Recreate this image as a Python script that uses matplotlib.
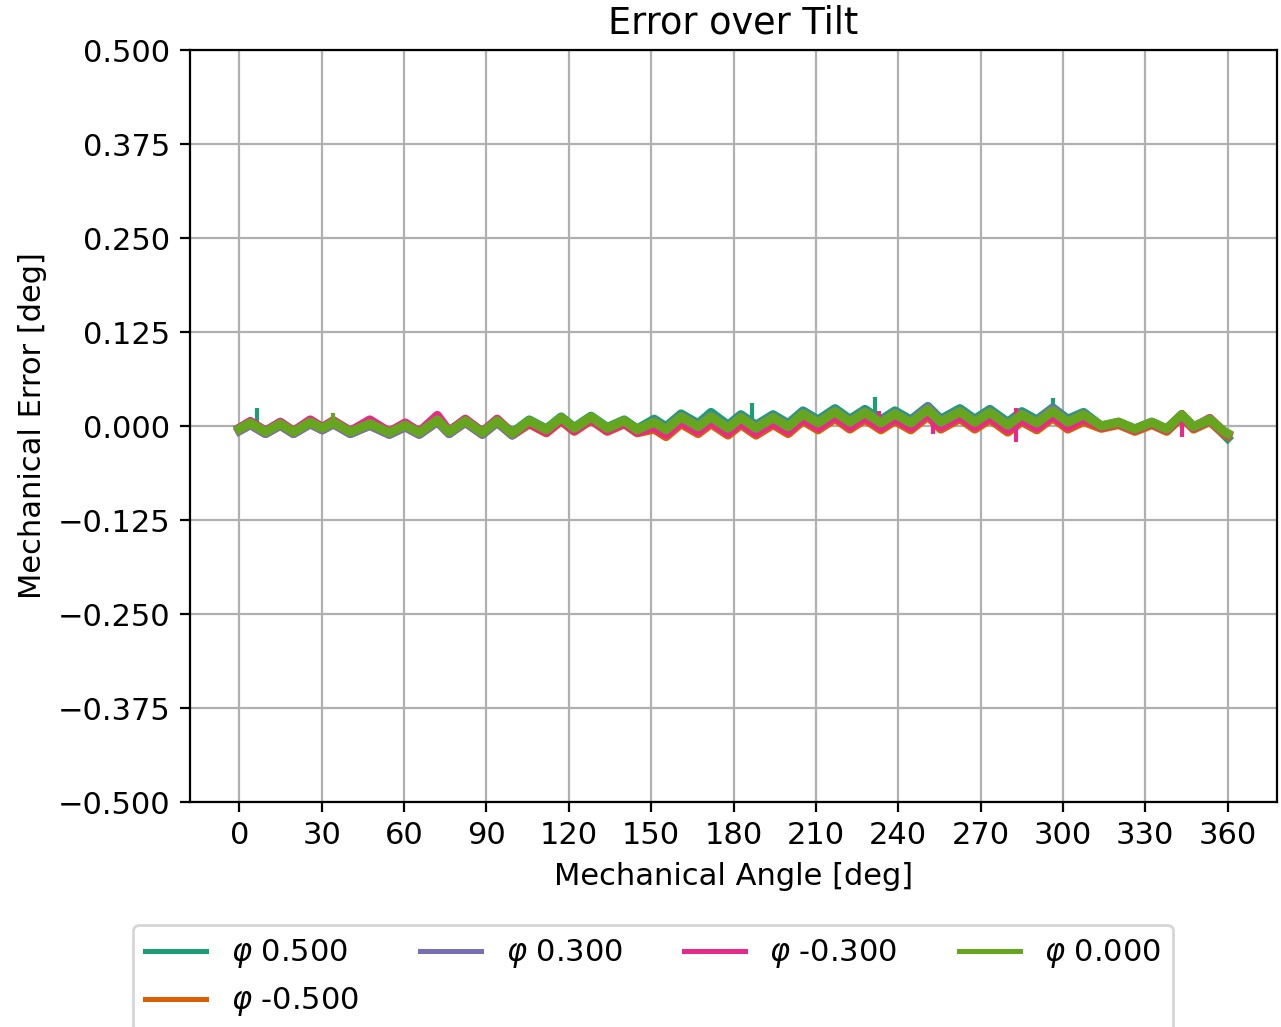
import numpy as np
import matplotlib
matplotlib.use("Agg")
import matplotlib.pyplot as plt

plt.rcParams['font.size'] = 11.0

# angle positions (peaks/troughs)
angle = [0.0, 4.0, 9.5, 14.9, 19.7, 25.8, 30.2, 34.2, 40.4, 47.5,
         54.6, 60.4, 65.5, 72.1, 76.4, 82.3, 88.5, 93.9, 99.4, 105.6,
         111.8, 117.2, 122.0, 128.1, 134.0, 140.2, 144.9, 151.1, 155.4, 160.9,
         167.1, 171.8, 178.0, 182.7, 188.2, 194.4, 199.9, 205.3, 210.8, 217.0,
         222.4, 227.9, 233.7, 238.8, 244.6, 250.8, 255.5, 262.5, 267.9, 273.4,
         279.9, 285.0, 290.5, 296.3, 301.8, 307.5, 314.0, 320.3, 326.2, 332.4,
         337.8, 343.3, 347.6, 353.5, 358.9, 360.0]

err_p050 = [-0.003, 0.005, -0.007, 0.004, -0.007, 0.006, -0.002, 0.006, -0.007, 0.004,
            -0.008, 0.002, -0.008, 0.009, -0.007, 0.008, -0.008, 0.008, -0.009, 0.008,
            -0.004, 0.012, -0.002, 0.013, -0.002, 0.008, -0.004, 0.009, -0.001, 0.016,
            0.003, 0.018, 0.001, 0.015, 0.001, 0.015, 0.003, 0.020, 0.008, 0.023,
            0.009, 0.022, 0.008, 0.020, 0.008, 0.026, 0.009, 0.023, 0.009, 0.022,
            0.005, 0.019, 0.008, 0.024, 0.009, 0.018, 0.000, 0.005, -0.004, 0.005,
            -0.004, 0.015, -0.001, 0.008, -0.012, -0.016]

err_m050 = [-0.006, 0.002, -0.010, 0.001, -0.010, 0.003, -0.005, 0.003, -0.010, 0.001,
            -0.011, -0.001, -0.011, 0.006, -0.010, 0.005, -0.011, 0.005, -0.012, 0.003,
            -0.009, 0.007, -0.007, 0.008, -0.007, 0.003, -0.009, -0.004, -0.014, 0.003,
            -0.010, 0.003, -0.012, 0.002, -0.012, 0.002, -0.010, 0.007, -0.005, 0.010,
            -0.004, 0.009, -0.005, 0.007, -0.005, 0.013, -0.004, 0.010, -0.004, 0.009,
            -0.008, 0.006, -0.005, 0.011, -0.004, 0.006, -0.003, 0.002, -0.007, 0.002,
            -0.007, 0.012, -0.004, 0.006, -0.011, -0.013]

err_p030 = [-0.006, 0.002, -0.010, 0.001, -0.010, 0.003, -0.005, 0.003, -0.010, 0.001,
            -0.011, -0.001, -0.011, 0.006, -0.010, 0.005, -0.011, 0.005, -0.012, 0.005,
            -0.007, 0.009, -0.005, 0.010, -0.005, 0.005, -0.007, 0.006, -0.004, 0.013,
            0.000, 0.013, -0.002, 0.012, -0.002, 0.012, 0.000, 0.017, 0.005, 0.020,
            0.006, 0.019, 0.005, 0.017, 0.005, 0.025, 0.006, 0.020, 0.006, 0.019,
            0.002, 0.016, 0.005, 0.023, 0.006, 0.016, -0.001, 0.004, -0.005, 0.004,
            -0.005, 0.014, -0.002, 0.008, -0.009, -0.011]

err_m030 = [-0.003, 0.006, -0.007, 0.005, -0.007, 0.008, -0.002, 0.007, -0.007, 0.008,
            -0.008, 0.004, -0.008, 0.014, -0.007, 0.009, -0.008, 0.009, -0.010, 0.004,
            -0.008, 0.008, -0.006, 0.009, -0.006, 0.004, -0.008, -0.001, -0.011, 0.006,
            -0.007, 0.006, -0.009, 0.005, -0.009, 0.005, -0.007, 0.010, -0.002, 0.013,
            -0.001, 0.012, -0.002, 0.010, -0.002, 0.016, -0.001, 0.013, -0.001, 0.012,
            -0.005, 0.009, -0.002, 0.014, -0.001, 0.010, -0.001, 0.004, -0.005, 0.004,
            -0.005, 0.014, -0.002, 0.010, -0.009, -0.011]

err_000 = [-0.004, 0.004, -0.008, 0.003, -0.008, 0.005, -0.003, 0.005, -0.008, 0.003,
           -0.009, 0.001, -0.009, 0.008, -0.008, 0.007, -0.009, 0.007, -0.010, 0.007,
           -0.005, 0.011, -0.003, 0.012, -0.003, 0.007, -0.005, 0.005, -0.005, 0.012,
           -0.001, 0.012, -0.003, 0.011, -0.003, 0.011, -0.001, 0.016, 0.004, 0.019,
           0.005, 0.018, 0.004, 0.016, 0.004, 0.022, 0.005, 0.019, 0.005, 0.018,
           0.001, 0.015, 0.004, 0.020, 0.005, 0.015, 0.000, 0.005, -0.004, 0.005,
           -0.004, 0.015, -0.001, 0.009, -0.008, -0.010]

# short spikes: angle, low, high
spike_p050 = [(6.5, 0.000, 0.024), (186.7, 0.010, 0.031), (231.5, 0.015, 0.039), (296.3, 0.015, 0.037)]
spike_m030 = [(233.0, -0.002, 0.020), (252.6, -0.010, 0.011), (283.0, -0.021, 0.024), (343.3, -0.015, 0.021)]
spike_000 = [(34.0, 0.000, 0.017)]

labels = [r'$\varphi$ 0.500', r'$\varphi$ -0.500', r'$\varphi$ 0.300', r'$\varphi$ -0.300', r'$\varphi$ 0.000']
series = [err_p050, err_m050, err_p030, err_m030, err_000]
colors = ['#1b9e77', '#d95f02', '#7570b3', '#e7298a', '#66a61e']
spikes = {0: spike_p050, 3: spike_m030, 4: spike_000}

fig = plt.figure(figsize=(6.405, 5.135), dpi=200)
ax = fig.add_axes([190 / 1281, 1 - 802 / 1027, (1277 - 190) / 1281, 752 / 1027])

for i, (lab, vals, c) in enumerate(zip(labels, series, colors)):
    ax.plot(angle, vals, color=c, lw=3.3, label=lab)
    for sx, lo, hi in spikes.get(i, []):
        ax.vlines(sx, lo, hi, color=c, lw=1.5)

ax.set_xticks(np.arange(0, 361, 30))
ax.set_yticks(np.arange(-0.5, 0.51, 0.125))
ax.set_ylim(-0.5, 0.5)
ax.grid(True)
ax.set_xlabel('Mechanical Angle [deg]')
ax.set_ylabel('Mechanical Error [deg]')
ax.set_title('Error over Tilt')

leg = fig.legend(loc='upper left', bbox_to_anchor=(133 / 1281, 1 - 925 / 1027),
                 ncol=4, borderaxespad=0)
for h in leg.legend_handles:
    h.set_linewidth(1.8)

fig.savefig('out.png', dpi=200)
